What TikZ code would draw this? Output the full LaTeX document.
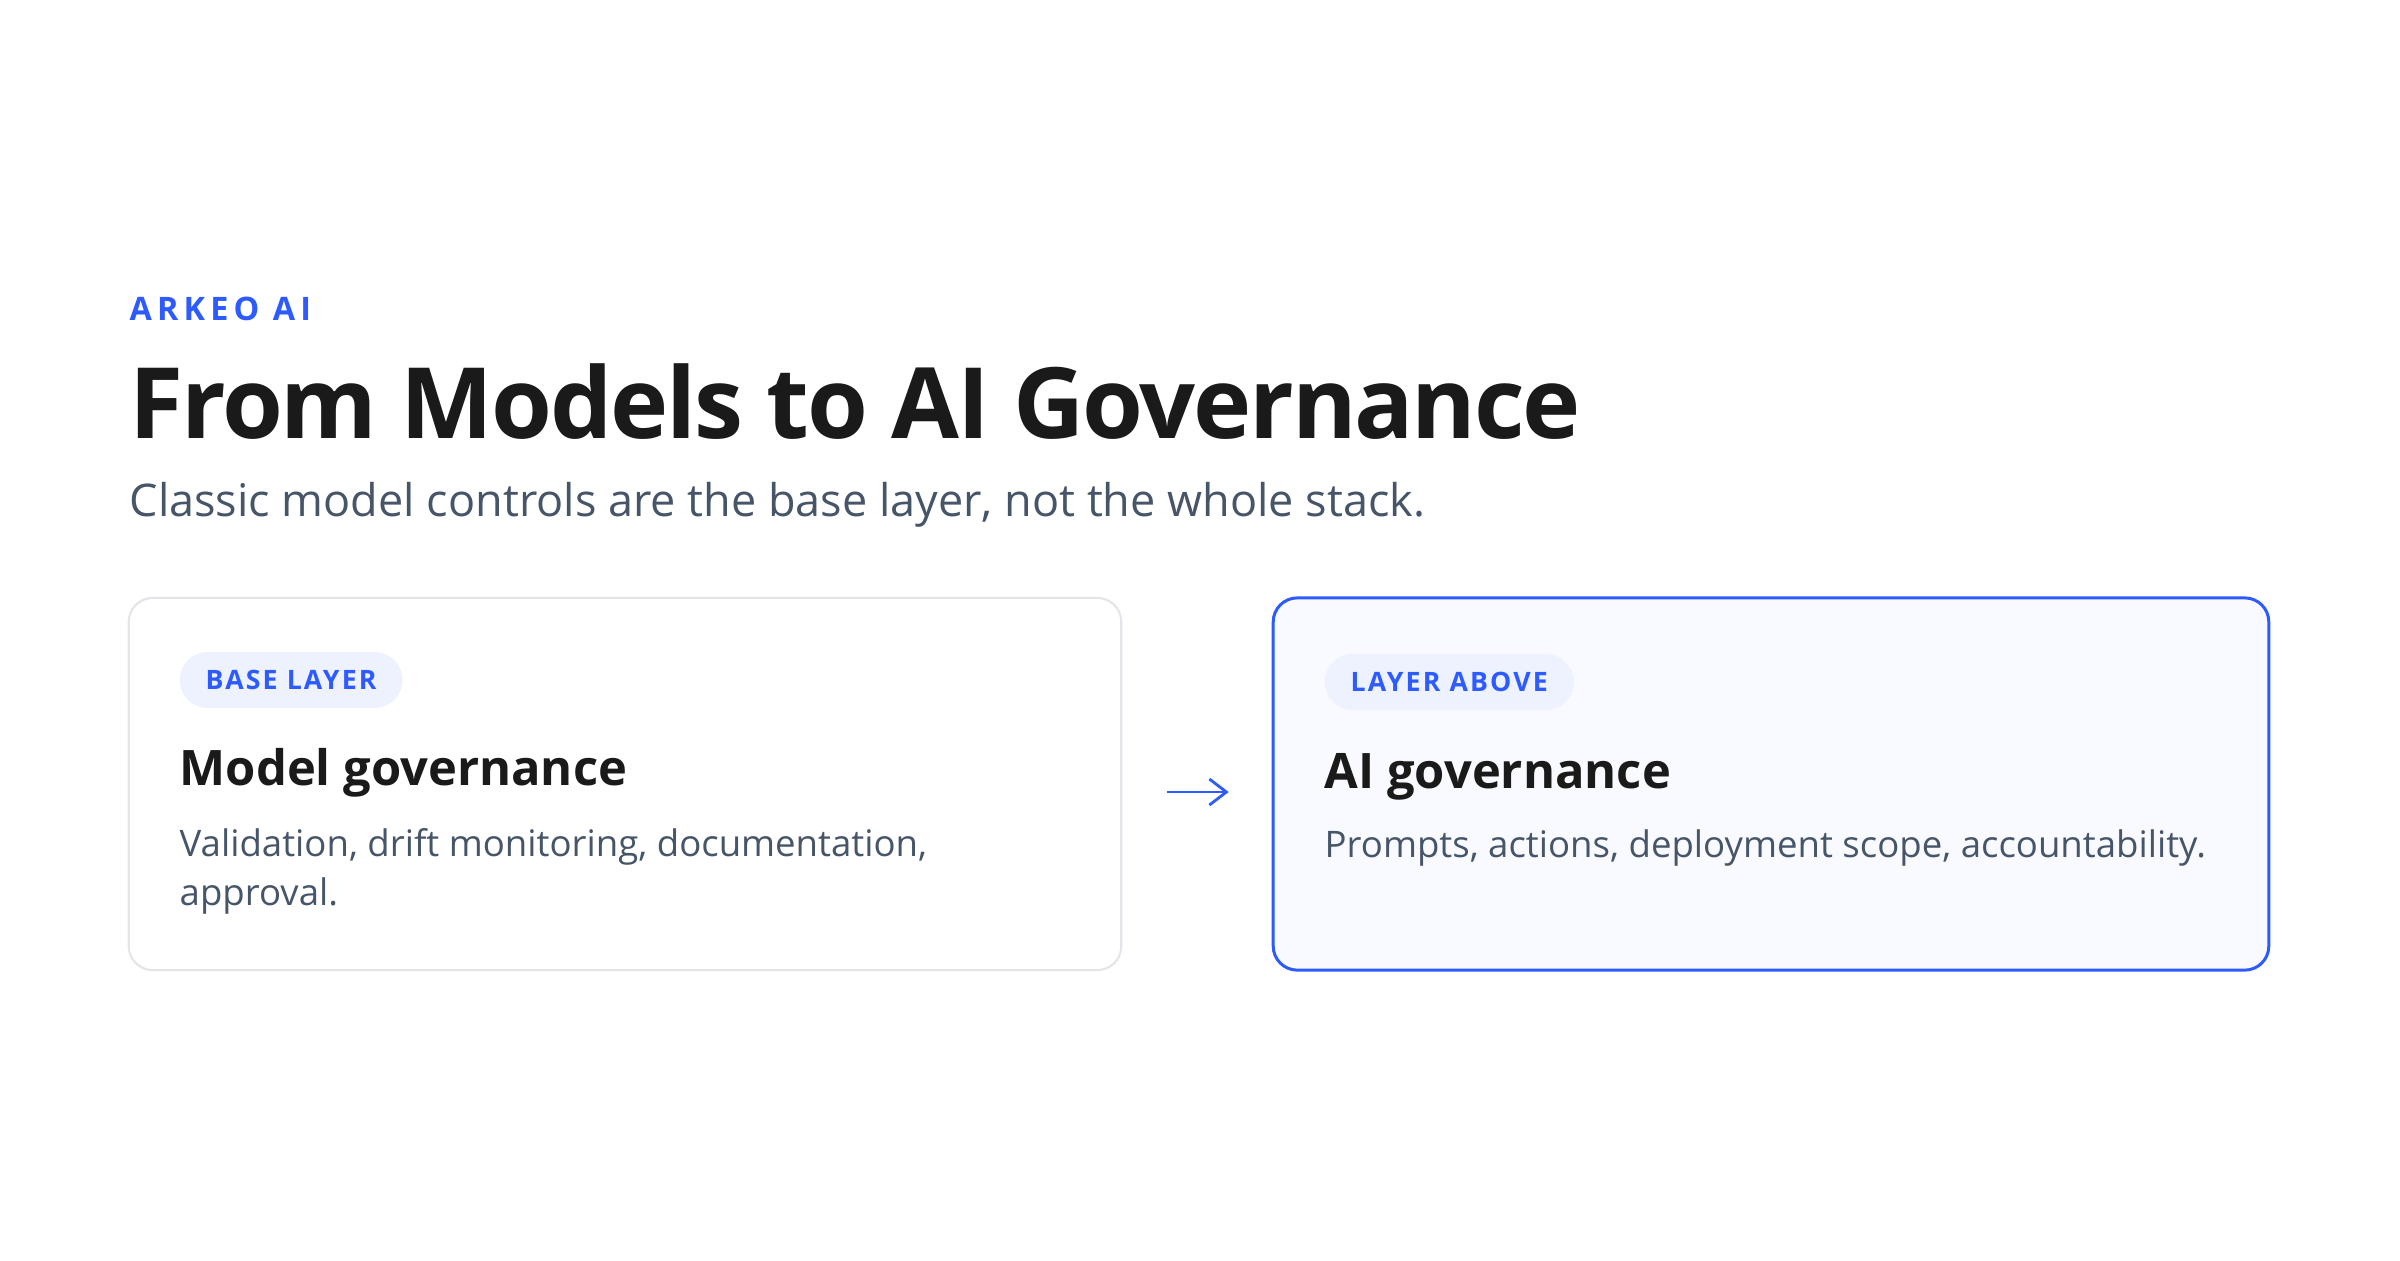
\documentclass[tikz,border=0pt]{standalone}
\usepackage{fontspec}
\setmainfont{Open Sans}
\usetikzlibrary{arrows.meta,positioning}

\definecolor{arkblue}{HTML}{2D5BFF}
\definecolor{ink}{HTML}{1A1A1A}
\definecolor{slate}{HTML}{475569}
\definecolor{edge}{HTML}{E3E5EA}
\definecolor{chip}{HTML}{EEF2FF}
\definecolor{panel}{HTML}{F8FAFF}

\begin{document}
\begin{tikzpicture}[
  x=0.01cm, y=-0.01cm,
  card/.style={rectangle, rounded corners=0.24cm, minimum width=9.92cm, minimum height=3.72cm},
  badge/.style={rectangle, rounded corners=0.28cm, fill=chip, minimum height=0.56cm, inner xsep=0.26cm, inner ysep=0pt,
    text=arkblue, font=\bfseries\fontsize{7.6}{9}\selectfont\addfontfeature{LetterSpace=8}},
  heading/.style={anchor=base west, inner sep=0pt, text=ink, font=\bfseries\fontsize{13.9}{16}\selectfont},
  body/.style={anchor=base west, inner sep=0pt, text=slate, align=left, font=\fontsize{10.4}{13.9}\selectfont}
]
\useasboundingbox (0,0) rectangle (2400,1260);
\fill[white] (0,0) rectangle (2400,1260);

% Header
\node[anchor=base west, inner sep=0pt, text=arkblue, font=\bfseries\fontsize{9.2}{11}\selectfont\addfontfeature{LetterSpace=16}] (brand) at (129,320) {ARKEO AI};
\node[anchor=base west, inner sep=0pt, text=ink, font=\bfseries\fontsize{28}{32}\selectfont\addfontfeature{LetterSpace=-2.2}] (title) at (129,438) {From Models to AI Governance};
\node[anchor=base west, inner sep=0pt, text=slate, font=\fontsize{12.8}{15}\selectfont] (subtitle) at (129,516) {Classic model controls are the base layer, not the whole stack.};

% Two cards
\node[card, draw=edge, line width=0.6pt, fill=white] (base) at (625,784) {};
\node[card, draw=arkblue, line width=0.85pt, fill=panel, minimum width=9.95cm] (above) at (1771,784) {};

% Card contents (multi-line body sits on its last baseline)
\node[badge, anchor=west] (base-tag) at (179,680) {BASE LAYER};
\node[heading] (base-head) at (179,785) {Model governance};
\node[body] (base-text) at (179,905) {Validation, drift monitoring, documentation,\\approval.};

\node[badge, anchor=west] (above-tag) at (1324,682) {LAYER ABOVE};
\node[heading] (above-head) at (1324,788) {AI governance};
\node[body] (above-text) at (1324,857) {Prompts, actions, deployment scope, accountability.};

% Arrow between layers
\draw[-{Straight Barb[length=0.17cm,width=0.26cm]}, arkblue, line width=0.8pt, shorten <=0.45cm, shorten >=0.43cm]
  ([yshift=-0.08cm]base.east) -- ([yshift=-0.08cm]above.west);

\end{tikzpicture}
\end{document}
